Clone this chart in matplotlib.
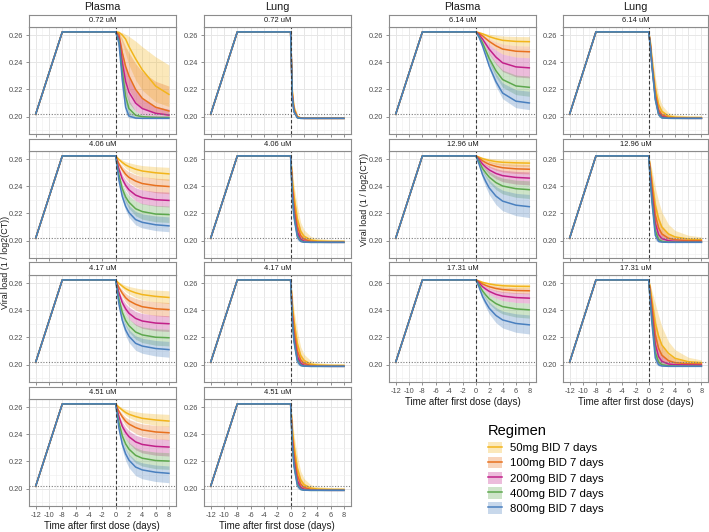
import matplotlib
matplotlib.use('Agg')
import matplotlib.pyplot as plt
from matplotlib.patches import Patch
from matplotlib.lines import Line2D
from matplotlib.ticker import FormatStrFormatter

plt.rcParams['font.family'] = ['Liberation Sans', 'DejaVu Sans']
plt.rcParams['axes.unicode_minus'] = False

# ---- data -------------------------------------------------------------
REGIMENS = ['50mg BID 7 days', '100mg BID 7 days', '200mg BID 7 days',
            '400mg BID 7 days', '800mg BID 7 days']
COLORS = ['#F2B51C', '#E8711F', '#C2218A', '#5DA84E', '#4A80BF']

# shared pre-dose course (time, viral load)
T_PRE = [-12, -8, 0]
V_PRE = [0.2018, 0.2623, 0.2623]
BASELINE = 0.2018

T_PLASMA = [0, 0.5, 1, 1.5, 2, 3, 4, 6, 8]
T_LUNG = [0, 0.25, 0.5, 1, 1.5, 2, 3, 4, 6, 8]

# plasma, one row per regimen (50 -> 800 mg)
plasma_072_mid = [
    [.2623, .2620, .2600, .2570, .2515, .2425, .2345, .2225, .2164],
    [.2623, .2605, .2470, .2370, .2300, .2200, .2135, .2070, .2042],
    [.2623, .2580, .2400, .2260, .2180, .2100, .2060, .2025, .2012],
    [.2623, .2560, .2330, .2150, .2060, .2010, .2000, .1995, .1995],
    [.2623, .2540, .2270, .2070, .2005, .1990, .1988, .1988, .1988]]
plasma_072_lo = [
    [.2623, .2605, .2545, .2460, .2380, .2270, .2195, .2110, .2075],
    [.2623, .2580, .2390, .2270, .2200, .2110, .2065, .2025, .2010],
    [.2623, .2550, .2310, .2170, .2100, .2040, .2015, .2000, .1995],
    [.2623, .2520, .2250, .2090, .2020, .1995, .1990, .1990, .1990],
    [.2623, .2500, .2190, .2020, .1990, .1986, .1986, .1986, .1986]]
plasma_072_hi = [
    [.2623, .2623, .2618, .2605, .2590, .2555, .2514, .2440, .2380],
    [.2623, .2618, .2570, .2515, .2470, .2390, .2330, .2260, .2225],
    [.2623, .2600, .2480, .2370, .2290, .2190, .2130, .2075, .2055],
    [.2623, .2585, .2400, .2230, .2120, .2040, .2015, .2005, .2000],
    [.2623, .2570, .2340, .2140, .2040, .1998, .1990, .1990, .1990]]

plasma_406_mid = [
    [.2623, .2597, .2575, .2557, .2544, .2525, .2512, .2499, .2491],
    [.2623, .2564, .2522, .2488, .2465, .2438, .2420, .2405, .2398],
    [.2623, .2525, .2453, .2407, .2374, .2335, .2316, .2301, .2296],
    [.2623, .2481, .2382, .2321, .2283, .2235, .2214, .2196, .2192],
    [.2623, .2443, .2325, .2253, .2207, .2155, .2135, .2117, .2109]]
plasma_406_lo = [
    [.2623, .2587, .2558, .2532, .2514, .2489, .2471, .2453, .2442],
    [.2623, .2551, .2498, .2456, .2428, .2395, .2373, .2353, .2345],
    [.2623, .2510, .2428, .2375, .2338, .2293, .2270, .2254, .2248],
    [.2623, .2462, .2349, .2281, .2237, .2183, .2158, .2139, .2134],
    [.2623, .2428, .2300, .2222, .2172, .2116, .2094, .2074, .2066]]
plasma_406_hi = [
    [.2623, .2606, .2593, .2581, .2573, .2561, .2552, .2544, .2539],
    [.2623, .2579, .2547, .2522, .2505, .2484, .2471, .2459, .2454],
    [.2623, .2543, .2485, .2447, .2421, .2389, .2373, .2361, .2357],
    [.2623, .2502, .2417, .2365, .2332, .2292, .2273, .2259, .2255],
    [.2623, .2466, .2363, .2300, .2260, .2215, .2197, .2182, .2175]]

plasma_417_mid = [
    [.2623, .2597, .2577, .2559, .2546, .2528, .2515, .2502, .2494],
    [.2623, .2566, .2525, .2492, .2470, .2444, .2426, .2411, .2405],
    [.2623, .2527, .2456, .2411, .2378, .2340, .2321, .2306, .2301],
    [.2623, .2483, .2385, .2325, .2287, .2240, .2219, .2202, .2198],
    [.2623, .2444, .2326, .2255, .2209, .2157, .2137, .2119, .2111]]
plasma_417_lo = [
    [.2623, .2589, .2561, .2536, .2519, .2494, .2477, .2460, .2449],
    [.2623, .2553, .2501, .2460, .2433, .2401, .2379, .2360, .2352],
    [.2623, .2509, .2426, .2373, .2335, .2290, .2267, .2250, .2244],
    [.2623, .2463, .2352, .2284, .2240, .2187, .2162, .2143, .2138],
    [.2623, .2424, .2294, .2214, .2163, .2106, .2084, .2064, .2055]]
plasma_417_hi = [
    [.2623, .2607, .2594, .2583, .2575, .2564, .2555, .2548, .2543],
    [.2623, .2580, .2549, .2524, .2507, .2487, .2474, .2462, .2457],
    [.2623, .2544, .2486, .2449, .2423, .2391, .2376, .2364, .2360],
    [.2623, .2504, .2420, .2369, .2336, .2297, .2278, .2264, .2260],
    [.2623, .2465, .2361, .2298, .2257, .2212, .2194, .2178, .2171]]

plasma_451_mid = [
    [.2623, .2598, .2578, .2560, .2547, .2530, .2517, .2505, .2497],
    [.2623, .2568, .2528, .2496, .2475, .2449, .2432, .2417, .2411],
    [.2623, .2528, .2458, .2414, .2382, .2344, .2325, .2311, .2306],
    [.2623, .2484, .2388, .2329, .2291, .2245, .2224, .2207, .2203],
    [.2623, .2444, .2327, .2256, .2210, .2159, .2138, .2121, .2113]]
plasma_451_lo = [
    [.2623, .2590, .2563, .2539, .2523, .2499, .2483, .2466, .2456],
    [.2623, .2554, .2504, .2464, .2437, .2406, .2384, .2366, .2358],
    [.2623, .2508, .2424, .2370, .2332, .2286, .2263, .2246, .2240],
    [.2623, .2464, .2354, .2286, .2243, .2190, .2166, .2147, .2142],
    [.2623, .2420, .2287, .2206, .2154, .2096, .2073, .2053, .2044]]
plasma_451_hi = [
    [.2623, .2608, .2595, .2584, .2577, .2566, .2558, .2551, .2546],
    [.2623, .2581, .2550, .2525, .2509, .2489, .2476, .2465, .2460],
    [.2623, .2545, .2487, .2451, .2425, .2393, .2378, .2366, .2362],
    [.2623, .2505, .2423, .2372, .2340, .2301, .2283, .2269, .2265],
    [.2623, .2463, .2359, .2295, .2254, .2208, .2190, .2174, .2167]]

plasma_614_mid = [
    [.2623, .2617, .2609, .2599, .2588, .2573, .2561, .2553, .2551],
    [.2623, .2611, .2594, .2573, .2553, .2521, .2497, .2481, .2477],
    [.2623, .2602, .2570, .2533, .2496, .2438, .2396, .2366, .2359],
    [.2623, .2590, .2542, .2485, .2428, .2338, .2273, .2226, .2216],
    [.2623, .2581, .2519, .2446, .2372, .2258, .2174, .2114, .2101]]
plasma_614_lo = [
    [.2623, .2615, .2602, .2588, .2573, .2550, .2534, .2522, .2519],
    [.2623, .2608, .2585, .2558, .2532, .2490, .2460, .2438, .2433],
    [.2623, .2596, .2555, .2508, .2461, .2386, .2332, .2293, .2285],
    [.2623, .2585, .2528, .2462, .2396, .2292, .2216, .2162, .2150],
    [.2623, .2577, .2509, .2429, .2349, .2223, .2132, .2066, .2052]]
plasma_614_hi = [
    [.2623, .2620, .2616, .2611, .2606, .2598, .2593, .2589, .2588],
    [.2623, .2615, .2602, .2588, .2573, .2550, .2534, .2522, .2519],
    [.2623, .2608, .2585, .2558, .2532, .2490, .2460, .2438, .2433],
    [.2623, .2597, .2558, .2512, .2467, .2395, .2343, .2306, .2298],
    [.2623, .2588, .2536, .2475, .2414, .2318, .2248, .2198, .2187]]

plasma_1296_mid = [
    [.2623, .2614, .2603, .2596, .2590, .2581, .2576, .2572, .2570],
    [.2623, .2606, .2587, .2573, .2561, .2546, .2536, .2528, .2525],
    [.2623, .2595, .2563, .2540, .2520, .2494, .2478, .2465, .2460],
    [.2623, .2581, .2531, .2497, .2467, .2427, .2402, .2382, .2375],
    [.2623, .2560, .2485, .2433, .2388, .2328, .2291, .2261, .2250]]
plasma_1296_lo = [
    [.2623, .2610, .2594, .2583, .2574, .2561, .2554, .2547, .2545],
    [.2623, .2600, .2574, .2555, .2539, .2518, .2505, .2494, .2490],
    [.2623, .2587, .2544, .2514, .2489, .2455, .2433, .2416, .2410],
    [.2623, .2570, .2507, .2463, .2426, .2376, .2344, .2319, .2310],
    [.2623, .2546, .2455, .2392, .2338, .2265, .2220, .2184, .2170]]
plasma_1296_hi = [
    [.2623, .2618, .2613, .2609, .2605, .2601, .2598, .2596, .2595],
    [.2623, .2612, .2600, .2591, .2583, .2573, .2567, .2562, .2560],
    [.2623, .2603, .2579, .2563, .2549, .2530, .2518, .2509, .2505],
    [.2623, .2592, .2555, .2530, .2508, .2478, .2460, .2445, .2440],
    [.2623, .2575, .2518, .2479, .2445, .2399, .2371, .2348, .2340]]

plasma_1731_mid = [
    [.2623, .2615, .2605, .2599, .2593, .2585, .2580, .2576, .2575],
    [.2623, .2609, .2593, .2582, .2573, .2560, .2552, .2545, .2543],
    [.2623, .2600, .2573, .2555, .2539, .2517, .2504, .2493, .2489],
    [.2623, .2586, .2542, .2511, .2484, .2449, .2427, .2410, .2403],
    [.2623, .2567, .2501, .2455, .2415, .2362, .2329, .2303, .2293]]
plasma_1731_lo = [
    [.2623, .2612, .2599, .2590, .2582, .2572, .2565, .2560, .2558],
    [.2623, .2606, .2585, .2571, .2559, .2542, .2532, .2524, .2521],
    [.2623, .2594, .2560, .2536, .2515, .2488, .2471, .2457, .2452],
    [.2623, .2575, .2519, .2480, .2446, .2401, .2373, .2350, .2342],
    [.2623, .2556, .2476, .2421, .2373, .2309, .2270, .2238, .2226]]
plasma_1731_hi = [
    [.2623, .2618, .2612, .2608, .2604, .2599, .2596, .2594, .2593],
    [.2623, .2613, .2601, .2592, .2585, .2576, .2570, .2565, .2563],
    [.2623, .2607, .2587, .2574, .2562, .2546, .2537, .2529, .2526],
    [.2623, .2594, .2560, .2536, .2515, .2488, .2471, .2457, .2452],
    [.2623, .2579, .2528, .2492, .2461, .2420, .2394, .2374, .2366]]

# lung, one row per regimen (50 -> 800 mg)
lung_072_mid = [
    [.2623, .2190, .2070, .2003, .1992, .1989, .1988, .1988, .1988, .1988],
    [.2623, .2170, .2055, .1998, .1990, .1988, .1988, .1988, .1988, .1988],
    [.2623, .2155, .2045, .1995, .1989, .1988, .1988, .1988, .1988, .1988],
    [.2623, .2145, .2040, .1993, .1988, .1988, .1988, .1988, .1988, .1988],
    [.2623, .2140, .2035, .1992, .1988, .1988, .1988, .1988, .1988, .1988]]
lung_072_lo = [
    [.2623, .2160, .2050, .1996, .1989, .1988, .1987, .1987, .1987, .1987],
    [.2623, .2145, .2040, .1993, .1988, .1987, .1987, .1987, .1987, .1987],
    [.2623, .2135, .2033, .1991, .1987, .1987, .1987, .1987, .1987, .1987],
    [.2623, .2128, .2030, .1990, .1987, .1987, .1987, .1987, .1987, .1987],
    [.2623, .2125, .2027, .1990, .1987, .1987, .1987, .1987, .1987, .1987]]
lung_072_hi = [
    [.2623, .2230, .2095, .2012, .1996, .1991, .1989, .1989, .1989, .1989],
    [.2623, .2200, .2075, .2005, .1993, .1989, .1989, .1989, .1989, .1989],
    [.2623, .2180, .2060, .2000, .1991, .1989, .1989, .1989, .1989, .1989],
    [.2623, .2165, .2052, .1997, .1990, .1989, .1989, .1989, .1989, .1989],
    [.2623, .2157, .2045, .1995, .1989, .1989, .1989, .1989, .1989, .1989]]

lung_406_mid = [
    [.2623, .2450, .2330, .2160, .2070, .2033, .2006, .1998, .1995, .1995],
    [.2623, .2410, .2270, .2105, .2038, .2012, .1996, .1991, .1990, .1990],
    [.2623, .2370, .2220, .2065, .2012, .1997, .1990, .1989, .1988, .1988],
    [.2623, .2340, .2190, .2040, .2000, .1991, .1988, .1988, .1988, .1988],
    [.2623, .2320, .2172, .2028, .1996, .1989, .1988, .1988, .1988, .1988]]
lung_406_lo = [
    [.2623, .2390, .2260, .2090, .2028, .2006, .1993, .1990, .1989, .1989],
    [.2623, .2350, .2210, .2055, .2007, .1994, .1989, .1988, .1988, .1988],
    [.2623, .2310, .2160, .2030, .1997, .1990, .1988, .1988, .1988, .1988],
    [.2623, .2290, .2140, .2013, .1991, .1988, .1988, .1988, .1988, .1988],
    [.2623, .2278, .2127, .2003, .1989, .1987, .1987, .1987, .1987, .1987]]
lung_406_hi = [
    [.2623, .2530, .2410, .2255, .2135, .2080, .2032, .2016, .2008, .2005],
    [.2623, .2480, .2350, .2180, .2085, .2043, .2011, .2000, .1996, .1995],
    [.2623, .2430, .2290, .2118, .2045, .2014, .1996, .1991, .1990, .1990],
    [.2623, .2390, .2240, .2077, .2018, .1998, .1990, .1989, .1989, .1989],
    [.2623, .2368, .2218, .2060, .2007, .1993, .1989, .1989, .1989, .1989]]

lung_417_mid = [
    [.2623, .2445, .2325, .2155, .2068, .2032, .2005, .1998, .1995, .1995],
    [.2623, .2405, .2265, .2102, .2036, .2011, .1995, .1991, .1990, .1990],
    [.2623, .2365, .2215, .2062, .2011, .1996, .1990, .1989, .1988, .1988],
    [.2623, .2335, .2185, .2037, .1999, .1990, .1988, .1988, .1988, .1988],
    [.2623, .2316, .2169, .2026, .1995, .1989, .1988, .1988, .1988, .1988]]
lung_417_lo = [
    [.2623, .2385, .2255, .2088, .2026, .2005, .1993, .1990, .1989, .1989],
    [.2623, .2345, .2205, .2052, .2006, .1993, .1989, .1988, .1988, .1988],
    [.2623, .2305, .2155, .2027, .1996, .1990, .1988, .1988, .1988, .1988],
    [.2623, .2285, .2135, .2011, .1990, .1988, .1988, .1988, .1988, .1988],
    [.2623, .2274, .2123, .2001, .1989, .1987, .1987, .1987, .1987, .1987]]
lung_417_hi = [
    [.2623, .2525, .2405, .2250, .2132, .2077, .2031, .2015, .2008, .2005],
    [.2623, .2475, .2345, .2175, .2082, .2041, .2010, .2000, .1996, .1995],
    [.2623, .2425, .2285, .2114, .2042, .2013, .1995, .1991, .1990, .1990],
    [.2623, .2385, .2235, .2073, .2016, .1997, .1990, .1989, .1989, .1989],
    [.2623, .2364, .2214, .2057, .2006, .1992, .1989, .1989, .1989, .1989]]

lung_451_mid = [
    [.2623, .2440, .2320, .2150, .2065, .2030, .2005, .1998, .1995, .1995],
    [.2623, .2400, .2260, .2100, .2035, .2010, .1995, .1991, .1990, .1990],
    [.2623, .2360, .2210, .2060, .2010, .1996, .1990, .1989, .1988, .1988],
    [.2623, .2330, .2180, .2035, .1998, .1990, .1988, .1988, .1988, .1988],
    [.2623, .2313, .2166, .2024, .1995, .1989, .1988, .1988, .1988, .1988]]
lung_451_lo = [
    [.2623, .2380, .2250, .2085, .2025, .2005, .1993, .1990, .1989, .1989],
    [.2623, .2340, .2200, .2050, .2005, .1993, .1989, .1988, .1988, .1988],
    [.2623, .2300, .2150, .2025, .1995, .1990, .1988, .1988, .1988, .1988],
    [.2623, .2280, .2130, .2010, .1990, .1988, .1988, .1988, .1988, .1988],
    [.2623, .2270, .2120, .2000, .1989, .1987, .1987, .1987, .1987, .1987]]
lung_451_hi = [
    [.2623, .2520, .2400, .2245, .2130, .2075, .2030, .2015, .2008, .2005],
    [.2623, .2470, .2340, .2170, .2080, .2040, .2010, .2000, .1996, .1995],
    [.2623, .2420, .2280, .2110, .2040, .2012, .1995, .1991, .1990, .1990],
    [.2623, .2380, .2230, .2070, .2015, .1997, .1990, .1989, .1989, .1989],
    [.2623, .2360, .2210, .2055, .2005, .1992, .1989, .1989, .1989, .1989]]

lung_614_mid = [
    [.2623, .2550, .2420, .2210, .2090, .2040, .2005, .1997, .1994, .1994],
    [.2623, .2535, .2390, .2170, .2050, .2015, .1995, .1991, .1990, .1990],
    [.2623, .2525, .2380, .2150, .2030, .2002, .1990, .1989, .1988, .1988],
    [.2623, .2518, .2375, .2135, .2020, .1995, .1989, .1988, .1988, .1988],
    [.2623, .2510, .2371, .2125, .2015, .1991, .1988, .1988, .1988, .1988]]
lung_614_lo = [
    [.2623, .2520, .2370, .2150, .2040, .2010, .1993, .1990, .1989, .1989],
    [.2623, .2510, .2350, .2120, .2020, .1998, .1990, .1989, .1988, .1988],
    [.2623, .2505, .2340, .2110, .2010, .1993, .1988, .1988, .1988, .1988],
    [.2623, .2500, .2345, .2100, .2002, .1990, .1988, .1988, .1988, .1988],
    [.2623, .2495, .2345, .2095, .1998, .1988, .1987, .1987, .1987, .1987]]
lung_614_hi = [
    [.2623, .2580, .2480, .2290, .2160, .2085, .2030, .2014, .2007, .2005],
    [.2623, .2560, .2440, .2230, .2100, .2045, .2008, .1998, .1995, .1995],
    [.2623, .2545, .2420, .2200, .2065, .2020, .1997, .1991, .1990, .1990],
    [.2623, .2535, .2405, .2175, .2045, .2008, .1992, .1989, .1989, .1989],
    [.2623, .2525, .2395, .2160, .2035, .2000, .1990, .1989, .1989, .1989]]

lung_1296_mid = [
    [.2623, .2540, .2440, .2260, .2160, .2100, .2050, .2028, .2012, .2008],
    [.2623, .2510, .2400, .2190, .2095, .2050, .2018, .2007, .2001, .2000],
    [.2623, .2480, .2350, .2130, .2045, .2015, .2000, .1995, .1993, .1993],
    [.2623, .2450, .2310, .2075, .2010, .1995, .1990, .1989, .1989, .1989],
    [.2623, .2430, .2280, .2040, .1995, .1990, .1988, .1988, .1988, .1988]]
lung_1296_lo = [
    [.2623, .2500, .2380, .2160, .2080, .2040, .2015, .2005, .1998, .1996],
    [.2623, .2470, .2340, .2120, .2045, .2015, .2000, .1995, .1992, .1992],
    [.2623, .2440, .2300, .2070, .2010, .1996, .1990, .1989, .1989, .1989],
    [.2623, .2410, .2260, .2030, .1995, .1990, .1988, .1988, .1988, .1988],
    [.2623, .2390, .2230, .2005, .1989, .1987, .1987, .1987, .1987, .1987]]
lung_1296_hi = [
    [.2623, .2575, .2520, .2390, .2290, .2210, .2120, .2075, .2040, .2028],
    [.2623, .2550, .2470, .2290, .2180, .2110, .2055, .2032, .2015, .2010],
    [.2623, .2525, .2410, .2200, .2100, .2050, .2018, .2006, .2000, .1998],
    [.2623, .2495, .2365, .2130, .2040, .2010, .1995, .1991, .1990, .1990],
    [.2623, .2470, .2330, .2080, .2010, .1995, .1989, .1989, .1989, .1989]]

lung_1731_mid = [
    [.2623, .2560, .2470, .2305, .2210, .2145, .2084, .2047, .2022, .2015],
    [.2623, .2530, .2430, .2220, .2120, .2070, .2030, .2015, .2007, .2005],
    [.2623, .2500, .2380, .2150, .2060, .2025, .2005, .2000, .1998, .1997],
    [.2623, .2470, .2340, .2090, .2020, .2000, .1992, .1990, .1989, .1989],
    [.2623, .2450, .2300, .2050, .2000, .1991, .1988, .1988, .1988, .1988]]
lung_1731_lo = [
    [.2623, .2520, .2420, .2200, .2110, .2060, .2025, .2010, .2000, .1998],
    [.2623, .2490, .2380, .2140, .2060, .2030, .2008, .2000, .1995, .1994],
    [.2623, .2460, .2330, .2090, .2025, .2005, .1995, .1991, .1990, .1990],
    [.2623, .2430, .2290, .2045, .2000, .1991, .1988, .1988, .1988, .1988],
    [.2623, .2410, .2250, .2010, .1990, .1987, .1987, .1987, .1987, .1987]]
lung_1731_hi = [
    [.2623, .2590, .2540, .2450, .2360, .2280, .2170, .2110, .2055, .2035],
    [.2623, .2570, .2500, .2340, .2220, .2140, .2075, .2045, .2025, .2018],
    [.2623, .2540, .2440, .2240, .2130, .2075, .2030, .2015, .2006, .2004],
    [.2623, .2510, .2390, .2160, .2060, .2025, .2002, .1995, .1992, .1991],
    [.2623, .2490, .2350, .2100, .2020, .2000, .1991, .1989, .1989, .1989]]

LEFT_PANELS = [
    ('0.72 uM', (plasma_072_mid, plasma_072_lo, plasma_072_hi), (lung_072_mid, lung_072_lo, lung_072_hi)),
    ('4.06 uM', (plasma_406_mid, plasma_406_lo, plasma_406_hi), (lung_406_mid, lung_406_lo, lung_406_hi)),
    ('4.17 uM', (plasma_417_mid, plasma_417_lo, plasma_417_hi), (lung_417_mid, lung_417_lo, lung_417_hi)),
    ('4.51 uM', (plasma_451_mid, plasma_451_lo, plasma_451_hi), (lung_451_mid, lung_451_lo, lung_451_hi)),
]
RIGHT_PANELS = [
    ('6.14 uM', (plasma_614_mid, plasma_614_lo, plasma_614_hi), (lung_614_mid, lung_614_lo, lung_614_hi)),
    ('12.96 uM', (plasma_1296_mid, plasma_1296_lo, plasma_1296_hi), (lung_1296_mid, lung_1296_lo, lung_1296_hi)),
    ('17.31 uM', (plasma_1731_mid, plasma_1731_lo, plasma_1731_hi), (lung_1731_mid, lung_1731_lo, lung_1731_hi)),
]

# ---- layout (pixels of a 709x532 canvas) -----------------------------
W, H = 709, 532
COL_X = [(29, 175.6), (204, 350.6), (389, 536), (563, 708)]
ROW_PITCH = 124
PANEL_TOP, PANEL_BOT, STRIP_TOP = 27, 134, 14.5
BORDER = '#8C8C8C'
TEXT = '#4D4D4D'
DARK = '#1A1A1A'

fig = plt.figure(figsize=(W / 100, H / 100), dpi=100)


def rect(x0, x1, top, bot):
    return [x0 / W, 1 - bot / H, (x1 - x0) / W, (bot - top) / H]


def draw_panel(x0, x1, row, label, t_post, series, bottom_row):
    mid, lo, hi = series
    top = PANEL_TOP + ROW_PITCH * row
    bot = PANEL_BOT + ROW_PITCH * row
    ax = fig.add_axes(rect(x0, x1, top, bot))

    for i, c in enumerate(COLORS):
        ax.fill_between(t_post, lo[i], hi[i], color=c, alpha=0.3, lw=0, zorder=2)
    for i, c in enumerate(COLORS):
        ax.plot(T_PRE[:-1] + t_post, V_PRE[:-1] + mid[i], color=c, lw=1.1,
                solid_joinstyle='round', zorder=3)

    ax.axvline(0, color='#3A3A3A', lw=0.8, ls=(0, (3, 2)), zorder=4)
    ax.axhline(BASELINE, color='#7A7A7A', lw=0.8, ls=(0, (1, 1.5)), zorder=4)

    ax.set_xlim(-13, 9)
    ax.set_ylim(0.1873, 0.2659)
    ax.set_xticks(range(-12, 9, 2))
    ax.set_xticks(range(-11, 9, 2), minor=True)
    ax.set_yticks([0.20, 0.22, 0.24, 0.26])
    ax.set_yticks([0.19, 0.21, 0.23, 0.25], minor=True)
    ax.yaxis.set_major_formatter(FormatStrFormatter('%.2f'))
    ax.grid(which='major', color='#E6E6E6', lw=0.7)
    ax.grid(which='minor', color='#F0F0F0', lw=0.45)
    ax.set_axisbelow(True)
    ax.tick_params(which='major', length=2.5, width=0.6, color='#7F7F7F',
                   labelsize=5.3, labelcolor=TEXT, pad=1.5)
    ax.tick_params(which='minor', length=0)
    ax.tick_params(axis='x', labelbottom=bottom_row)
    for s in ax.spines.values():
        s.set_color(BORDER)
        s.set_linewidth(0.8)

    # facet strip
    sax = fig.add_axes(rect(x0, x1, STRIP_TOP + ROW_PITCH * row, top))
    sax.set_xticks([])
    sax.set_yticks([])
    for s in sax.spines.values():
        s.set_color(BORDER)
        s.set_linewidth(0.8)
    sax.text(0.5, 0.5, label, ha='center', va='center', fontsize=5.4,
             color=DARK, transform=sax.transAxes)

    if bottom_row:
        fig.text((x0 + x1) / 2 / W, 1 - (bot + 20) / H,
                 'Time after first dose (days)', ha='center', va='center',
                 fontsize=7, color=DARK)
    return ax


for group, (pc, lc) in ((LEFT_PANELS, (0, 1)), (RIGHT_PANELS, (2, 3))):
    n = len(group)
    for r, (label, pser, lser) in enumerate(group):
        draw_panel(*COL_X[pc], r, label, T_PLASMA, pser, r == n - 1)
        draw_panel(*COL_X[lc], r, label, T_LUNG, lser, r == n - 1)
    for col, name in ((pc, 'Plasma'), (lc, 'Lung')):
        x0, x1 = COL_X[col]
        fig.text((x0 + x1) / 2 / W, 1 - 6.5 / H, name, ha='center', va='center',
                 fontsize=7.8, color=DARK)

fig.text(5.5 / W, 1 - 262 / H, 'Viral load (1 / log2(CT))', rotation=90,
         ha='center', va='center', fontsize=6.4, color=DARK)
fig.text(364.5 / W, 1 - 199 / H, 'Viral load (1 / log2(CT))', rotation=90,
         ha='center', va='center', fontsize=6.4, color=DARK)

handles = [(Patch(facecolor=c, alpha=0.3, lw=0), Line2D([], [], color=c, lw=1.1))
           for c in COLORS]
leg = fig.legend(handles, REGIMENS, loc='upper left',
                 bbox_to_anchor=(478 / W, 1 - 414 / H), frameon=False,
                 title='Regimen', title_fontsize=10.5, fontsize=8.2,
                 handlelength=1.25, handleheight=1.2, handletextpad=0.7,
                 labelspacing=0.3, alignment='left')

fig.savefig('out.png', dpi=100)
